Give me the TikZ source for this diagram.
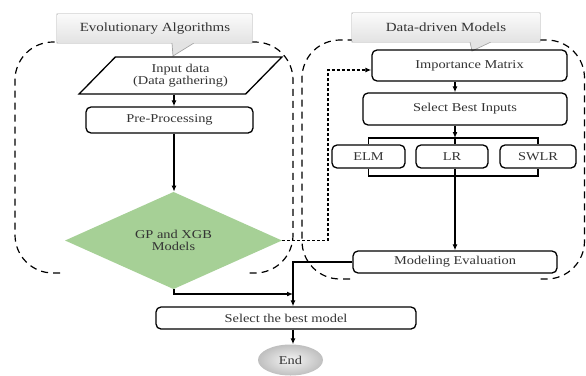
\documentclass[tikz,border=0pt]{standalone}
\usepackage{fontspec}
\setmainfont{Liberation Serif}[FakeStretch=1.2]
\usepackage{xcolor}
\usetikzlibrary{arrows.meta,shapes.geometric}
\definecolor{gpgreen}{RGB}{166,208,150}
\newcommand{\boxfont}{\fontsize{12}{12}\selectfont}
\newcommand{\bannerfont}{\fontsize{12.5}{14}\selectfont}

\begin{document}
\begin{tikzpicture}[x=1pt,y=-1pt,
  box/.style={draw,line width=1.3pt,rounded corners=5pt,align=center,inner sep=0pt,font=\boxfont,text=black!80},
  para/.style={draw,line width=1.3pt,trapezium,trapezium left angle=41,trapezium right angle=139,
    trapezium stretches=true,align=center,inner sep=0pt,font=\boxfont,text=black!80},
  dia/.style={diamond,fill=gpgreen,inner sep=0pt,align=center,font=\boxfont,text=black!80},
  endnode/.style={ellipse,inner color=gray!8,outer color=gray!50,inner sep=0pt,font=\boxfont,text=black!80},
  banner/.style={fill=gray!22,draw=gray!70,line width=0.7pt},
  bannertop/.style={top color=gray!4,bottom color=gray!22},
  bannertext/.style={font=\bannerfont,text=black!80,inner sep=0pt},
  region/.style={dash pattern=on 7pt off 5pt,line width=1.2pt,rounded corners=38pt},
  arr/.style={line width=1.3pt,-{Latex[length=6pt,width=5pt]}},
  ln/.style={line width=1.3pt},
  dsharr/.style={dash pattern=on 3pt off 2pt,line width=1.4pt,-{Latex[length=6pt,width=5pt]}}]
\useasboundingbox (0,0) rectangle (586,375);
% ---- dashed regions
\draw[region] (60,273) -- (15,273) -- (15,42) -- (293,42) -- (293,273) -- (247,273);
\draw[region] (350,279) -- (302,279) -- (302,40) -- (584.5,40) -- (584.5,279) -- (538,279);
% ---- banners
\filldraw[banner] (57,14) -- (252,14) -- (252,43) -- (194,43) -- (173,56) -- (172,43) -- (57,43) -- cycle;
\shade[bannertop] (57.5,14.5) rectangle (251.5,42.5);
\node[bannertext] (ea) at (155,28.5) {Evolutionary Algorithms};
\filldraw[banner] (352,13) -- (540,13) -- (540,42) -- (491,42) -- (472,51) -- (470,42) -- (352,42) -- cycle;
\shade[bannertop] (352.5,13.5) rectangle (539.5,41.5);
\node[bannertext] (dd) at (446,27.5) {Data-driven Models};
% ---- left column
\node[para,minimum width=203pt,minimum height=37pt] (input) at (180.5,75.5) {Input data\\(Data gathering)};
\node[box,minimum width=167pt,minimum height=26pt] (pre) at (169.5,120) {Pre-Processing};
\node[dia,minimum width=217pt,minimum height=81pt] (gp) at (173.5,240.5) {GP and XGB\\Models};
% ---- right column
\node[box,minimum width=195pt,minimum height=31pt] (imp) at (469.5,65.5) {Importance Matrix};
\node[box,minimum width=204pt,minimum height=32pt] (sbi) at (465,109) {Select Best Inputs};
\node[box,minimum width=73pt,minimum height=23pt] (elm) at (368.5,156.5) {ELM};
\node[box,minimum width=72pt,minimum height=23pt] (lr) at (452,156.5) {LR};
\node[box,minimum width=76pt,minimum height=23pt] (swlr) at (538,156.5) {SWLR};
\node[box,minimum width=204pt,minimum height=22pt] (me) at (455,262) {Modeling Evaluation};
% ---- bottom
\node[box,minimum width=260pt,minimum height=22pt] (best) at (286,318) {Select the best model};
\node[endnode,minimum width=65pt,minimum height=31pt] (end) at (290.5,360) {End};
% ---- connectors
\coordinate (lx) at (174,0);
\coordinate (rx) at (455,0);
\coordinate (tb) at (455,138);
\coordinate (bb) at (455,176);
\coordinate (dk) at (328,70);
\coordinate (mx) at (293,294);
\draw[arr] (input.south -| lx) -- (pre.north -| lx);
\draw[arr] (pre.south -| lx) -- (gp.north -| lx);
\draw[dsharr] (gp.east) -| (dk) -- (imp.west |- dk);
\draw[arr] (imp.south -| rx) -- (sbi.north -| rx);
\draw[arr] (sbi.south -| rx) -- (tb);
\draw[ln] (elm.north) |- (tb) -| (swlr.north);
\draw[ln] (tb) -- (lr.north -| tb);
\draw[ln] (elm.south) |- (bb) -| (swlr.south);
\draw[arr] (lr.south -| bb) -- (me.north -| bb);
\draw[arr] (gp.south -| lx) |- (mx);
\draw[arr] (me.west) -| (best.north -| mx);
\draw[arr] (best.south -| mx) -- (end.north -| mx);
\end{tikzpicture}
\end{document}
